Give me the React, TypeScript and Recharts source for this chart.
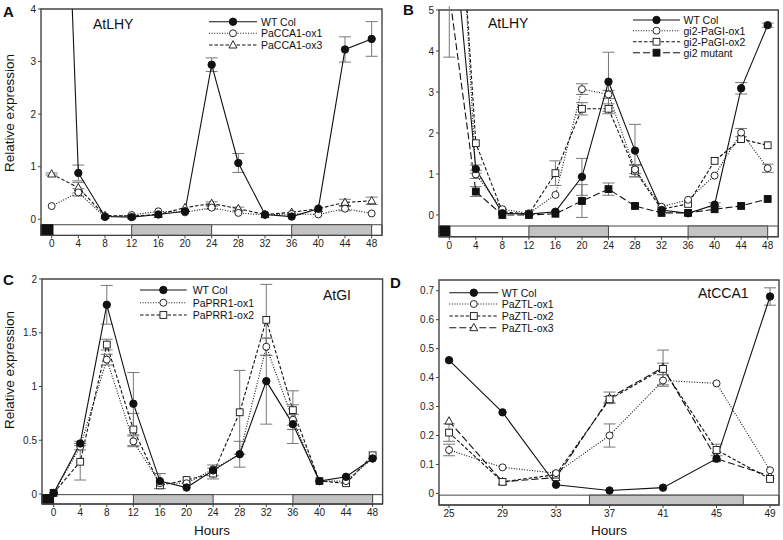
import React from "react";
import { LineChart, Line, XAxis, YAxis, ReferenceArea, ErrorBar } from "recharts";

const FONT = "'Liberation Sans', Arial, sans-serif";

// hours
const hoursABC = [0, 4, 8, 12, 16, 20, 24, 28, 32, 36, 40, 44, 48];
const hoursD = [25, 29, 33, 37, 41, 45, 49];

// A - AtLHY in PaCCA1 lines
const wtA = [14.6, 0.88, 0.05, 0.04, 0.09, 0.15, 2.94, 1.07, 0.09, 0.05, 0.2, 3.23, 3.43];
const wtAErr = [0, 0.15, 0, 0, 0, 0, 0.13, 0.18, 0, 0, 0, 0.24, 0.33];
const ox1A = [0.25, 0.51, 0.04, 0.08, 0.15, 0.13, 0.22, 0.12, 0.08, 0.1, 0.09, 0.2, 0.11];
const ox1AErr = [0, 0.07, 0, 0, 0, 0, 0.03, 0, 0, 0, 0, 0.04, 0];
const ox3A = [0.86, 0.6, 0.07, 0.06, 0.09, 0.22, 0.3, 0.2, 0.09, 0.13, 0.2, 0.32, 0.35];
const ox3AErr = [0.02, 0.1, 0, 0, 0, 0, 0.03, 0.03, 0, 0, 0, 0.06, 0.07];

// B - AtLHY in gi2 lines
const wtB = [8.0, 1.12, 0.04, 0.02, 0.08, 0.93, 3.25, 1.57, 0.12, 0.04, 0.25, 3.09, 4.63];
const wtBErr = [0, 0.1, 0, 0, 0, 0.45, 0.72, 0.64, 0, 0, 0.05, 0.14, 0.05];
const ox1B = [12.5, 0.99, 0.14, 0.04, 0.49, 3.07, 2.94, 1.11, 0.2, 0.37, 0.96, 2.01, 1.14];
const ox1BErr = [0, 0.1, 0, 0, 0, 0.13, 0.1, 0.1, 0, 0, 0, 0.1, 0.1];
const ox2B = [11.7, 1.75, 0.08, 0.02, 1.02, 2.59, 2.59, 1.08, 0.14, 0.27, 1.32, 1.85, 1.7];
const ox2BErr = [0, 0, 0, 0, 0.3, 0.15, 0.12, 0.15, 0, 0, 0, 0, 0];
const gi2B = [5.4, 0.57, 0.0, 0.0, 0.03, 0.34, 0.63, 0.22, 0.05, 0.05, 0.14, 0.22, 0.39];
const gi2BErr = [1.55, 0.12, 0, 0, 0, 0.4, 0.15, 0, 0, 0, 0, 0, 0];

// C - AtGI in PaPRR1 lines
const wtC = [0.01, 0.47, 1.76, 0.84, 0.12, 0.06, 0.22, 0.37, 1.05, 0.65, 0.12, 0.16, 0.33];
const wtCErr = [0, 0.02, 0.18, 0.29, 0.07, 0, 0.05, 0.12, 0.4, 0.18, 0, 0, 0];
const ox1C = [0.01, 0.44, 1.25, 0.49, 0.1, 0.1, 0.23, 0.37, 1.37, 0.69, 0.12, 0.12, 0.33];
const ox1CErr = [0, 0.03, 0.05, 0.05, 0, 0, 0, 0, 0.08, 0.05, 0, 0, 0];
const ox2C = [0.01, 0.3, 1.39, 0.6, 0.08, 0.13, 0.19, 0.76, 1.62, 0.78, 0.12, 0.1, 0.36];
const ox2CErr = [0, 0.17, 0.05, 0.15, 0, 0, 0.05, 0.39, 0.33, 0.18, 0, 0, 0];

// D - AtCCA1 in PaZTL lines
const wtD = [0.46, 0.28, 0.03, 0.01, 0.02, 0.12, 0.68];
const wtDErr = [0, 0, 0, 0, 0, 0, 0.03];
const ox1D = [0.15, 0.09, 0.07, 0.2, 0.39, 0.38, 0.08];
const ox1DErr = [0.02, 0, 0, 0.04, 0.02, 0, 0];
const ox2D = [0.21, 0.04, 0.065, 0.325, 0.43, 0.15, 0.05];
const ox2DErr = [0.03, 0, 0, 0.01, 0.02, 0.02, 0];
const ox3D = [0.25, 0.04, 0.055, 0.33, 0.435, 0.12, 0.06];
const ox3DErr = [0, 0, 0, 0.02, 0.06, 0, 0];

const ticksA = [0, 1, 2, 3, 4];
const ticksB = [0, 1, 2, 3, 4, 5];
const ticksC = [0, 0.5, 1, 1.5, 2];
const ticksD = [0, 0.1, 0.2, 0.3, 0.4, 0.5, 0.6, 0.7];

type Kind = "dot" | "ring" | "square" | "fsquare" | "tri";
type Dash = "solid" | "dotted" | "dashed" | "long";

const DASH: Record<Dash, string | undefined> = {
  solid: undefined,
  dotted: "1 1.6",
  dashed: "3.5 2",
  long: "7 3",
};

function Marker({ kind, cx, cy }: { kind: Kind; cx: number; cy: number }) {
  if (cx == null || cy == null) return null;
  const s = "#111";
  if (kind === "dot") return <circle cx={cx} cy={cy} r={3.7} fill={s} stroke={s} />;
  if (kind === "ring") return <circle cx={cx} cy={cy} r={3.5} fill="#fff" stroke={s} strokeWidth={0.9} />;
  if (kind === "square") return <rect x={cx - 3.4} y={cy - 3.4} width={6.8} height={6.8} fill="#fff" stroke={s} strokeWidth={0.9} />;
  if (kind === "fsquare") return <rect x={cx - 3.4} y={cy - 3.4} width={6.8} height={6.8} fill={s} stroke={s} />;
  return <polygon points={`${cx},${cy - 4.3} ${cx - 4},${cy + 3} ${cx + 4},${cy + 3}`} fill="#fff" stroke={s} strokeWidth={0.9} />;
}

interface Series {
  key: string;
  name: string;
  values: number[];
  errors: number[];
  kind: Kind;
  dash: Dash;
}

const seriesA: Series[] = [
  { key: "ox3", name: "PaCCA1-ox3", values: ox3A, errors: ox3AErr, kind: "tri", dash: "dashed" },
  { key: "ox1", name: "PaCCA1-ox1", values: ox1A, errors: ox1AErr, kind: "ring", dash: "dotted" },
  { key: "wt", name: "WT Col", values: wtA, errors: wtAErr, kind: "dot", dash: "solid" },
];
const seriesB: Series[] = [
  { key: "gi2", name: "gi2 mutant", values: gi2B, errors: gi2BErr, kind: "fsquare", dash: "long" },
  { key: "ox2", name: "gi2-PaGI-ox2", values: ox2B, errors: ox2BErr, kind: "square", dash: "dashed" },
  { key: "ox1", name: "gi2-PaGI-ox1", values: ox1B, errors: ox1BErr, kind: "ring", dash: "dotted" },
  { key: "wt", name: "WT Col", values: wtB, errors: wtBErr, kind: "dot", dash: "solid" },
];
const seriesC: Series[] = [
  { key: "ox2", name: "PaPRR1-ox2", values: ox2C, errors: ox2CErr, kind: "square", dash: "dashed" },
  { key: "ox1", name: "PaPRR1-ox1", values: ox1C, errors: ox1CErr, kind: "ring", dash: "dotted" },
  { key: "wt", name: "WT Col", values: wtC, errors: wtCErr, kind: "dot", dash: "solid" },
];
const seriesD: Series[] = [
  { key: "ox3", name: "PaZTL-ox3", values: ox3D, errors: ox3DErr, kind: "tri", dash: "long" },
  { key: "ox2", name: "PaZTL-ox2", values: ox2D, errors: ox2DErr, kind: "square", dash: "dashed" },
  { key: "ox1", name: "PaZTL-ox1", values: ox1D, errors: ox1DErr, kind: "ring", dash: "dotted" },
  { key: "wt", name: "WT Col", values: wtD, errors: wtDErr, kind: "dot", dash: "solid" },
];

const YW = 40;
const MT = 4;
const MR = 4;
const XH = 22;

interface PanelProps {
  left: number;
  top: number;
  plotW: number;
  plotH: number;
  hours: number[];
  xDomain: [number, number];
  yDomain: [number, number];
  yTicks: number[];
  barY: [number, number];
  grey: [number, number][];
  black?: number;
  series: Series[];
}

function Panel(p: PanelProps) {
  const data = p.hours.map((h, i) => {
    const row: Record<string, number | undefined> = { h };
    p.series.forEach((s) => {
      row[s.key] = s.values[i];
      row[s.key + "E"] = s.errors[i] ? s.errors[i] : undefined;
    });
    return row;
  });
  const [x0, x1] = p.xDomain;
  const [y0, y1] = p.yDomain;
  const tickStyle = { fontSize: 10, fill: "#222", fontFamily: FONT };
  return (
    <div style={{ position: "absolute", left: p.left - YW, top: p.top - MT }}>
      <LineChart
        width={YW + p.plotW + MR}
        height={MT + p.plotH + XH}
        data={data}
        margin={{ top: MT, right: MR, bottom: 0, left: 0 }}
      >
        <XAxis
          dataKey="h"
          type="number"
          domain={p.xDomain}
          ticks={p.hours}
          interval={0}
          allowDataOverflow
          axisLine={false}
          tickSize={3}
          tickLine={{ stroke: "#444" }}
          tick={tickStyle}
          height={XH}
        />
        <YAxis
          type="number"
          domain={p.yDomain}
          ticks={p.yTicks}
          interval={0}
          allowDataOverflow
          axisLine={false}
          tickSize={3}
          tickLine={{ stroke: "#444" }}
          tick={tickStyle}
          width={YW}
        />
        <ReferenceArea x1={x0} x2={x1} y1={p.barY[0]} y2={p.barY[1]} fill="#fff" fillOpacity={1} stroke="#444" strokeWidth={1} />
        {p.grey.map(([a, b], i) => (
          <ReferenceArea key={i} x1={a} x2={b} y1={p.barY[0]} y2={p.barY[1]} fill="#c3c3c3" fillOpacity={1} stroke="#444" strokeWidth={1} />
        ))}
        {p.black !== undefined && (
          <ReferenceArea x1={x0} x2={p.black} y1={p.barY[0]} y2={p.barY[1]} fill="#111" fillOpacity={1} stroke="#111" />
        )}
        <ReferenceArea x1={x0} x2={x1} y1={y0} y2={y1} fill="none" stroke="#444" strokeWidth={1.4} />
        {p.series.map((s) => (
          <Line
            key={s.key}
            dataKey={s.key}
            type="linear"
            stroke="#111"
            strokeWidth={1.1}
            strokeDasharray={DASH[s.dash]}
            isAnimationActive={false}
            dot={(d: any) => <Marker key={d.index} kind={s.kind} cx={d.cx} cy={d.cy} />}
            activeDot={false}
          >
            <ErrorBar dataKey={s.key + "E"} direction="y" width={6} stroke="#777" strokeWidth={1} />
          </Line>
        ))}
      </LineChart>
    </div>
  );
}

interface LegendProps {
  x0: number;
  x1: number;
  tx: number;
  rows: number[];
  items: Series[];
}

function LegendBox({ x0, x1, tx, rows, items }: LegendProps) {
  const mx = (x0 + x1) / 2;
  return (
    <g>
      {items.map((s, i) => (
        <g key={s.key}>
          <line x1={x0} x2={x1} y1={rows[i]} y2={rows[i]} stroke="#111" strokeWidth={1.1} strokeDasharray={DASH[s.dash]} />
          <Marker kind={s.kind} cx={mx} cy={rows[i]} />
          <text x={tx} y={rows[i] + 3.8} fontSize={10.5} fontFamily={FONT} fill="#111">
            {s.name}
          </text>
        </g>
      ))}
    </g>
  );
}

export default function App() {
  const rev = (a: Series[]) => [...a].reverse();
  return (
    <div style={{ position: "absolute", left: 0, top: 0, width: 783, height: 540, background: "#fff", overflow: "hidden" }}>
      <Panel
        left={41}
        top={9.3}
        plotW={341}
        plotH={226.4}
        hours={hoursABC}
        xDomain={[-1.6, 49.55]}
        yDomain={[-0.308, 4]}
        yTicks={ticksA}
        barY={[-0.308, -0.105]}
        grey={[[12, 24], [36, 48]]}
        black={0.2}
        series={seriesA}
      />
      <Panel
        left={439}
        top={10}
        plotW={339.3}
        plotH={226.7}
        hours={hoursABC}
        xDomain={[-1.55, 49.6]}
        yDomain={[-0.53, 5]}
        yTicks={ticksB}
        barY={[-0.53, -0.27]}
        grey={[[12, 24], [36, 48]]}
        black={0.1}
        series={seriesB}
      />
      <Panel
        left={41.7}
        top={279.3}
        plotW={340.6}
        plotH={225}
        hours={hoursABC}
        xDomain={[-1.75, 49.5]}
        yDomain={[-0.093, 2]}
        yTicks={ticksC}
        barY={[-0.093, -0.006]}
        grey={[[12, 24], [36, 48]]}
        black={0}
        series={seriesC}
      />
      <Panel
        left={439}
        top={280}
        plotW={340}
        plotH={225}
        hours={hoursD}
        xDomain={[24.25, 49.67]}
        yDomain={[-0.04, 0.737]}
        yTicks={ticksD}
        barY={[-0.04, -0.006]}
        grey={[[35.5, 47]]}
        series={seriesD}
      />
      <svg width={783} height={540} style={{ position: "absolute", left: 0, top: 0, pointerEvents: "none" }}>
        <g fontFamily={FONT} fill="#111">
          <text x={3} y={17} fontSize={15} fontWeight="bold">A</text>
          <text x={403} y={15} fontSize={15} fontWeight="bold">B</text>
          <text x={3} y={285} fontSize={15} fontWeight="bold">C</text>
          <text x={390} y={288} fontSize={15} fontWeight="bold">D</text>
          <text x={93} y={29} fontSize={14}>AtLHY</text>
          <text x={488} y={28} fontSize={14}>AtLHY</text>
          <text x={323} y={300} fontSize={14}>AtGI</text>
          <text x={698} y={298} fontSize={14}>AtCCA1</text>
          <text x={14} y={113} fontSize={13.5} textAnchor="middle" transform="rotate(-90 14 113)">Relative expression</text>
          <text x={14} y={370} fontSize={13.5} textAnchor="middle" transform="rotate(-90 14 370)">Relative expression</text>
          <text x={212} y={535} fontSize={13.5} textAnchor="middle">Hours</text>
          <text x={609} y={535} fontSize={13.5} textAnchor="middle">Hours</text>
        </g>
        <LegendBox x0={209} x1={257} tx={261} rows={[21.7, 33.3, 45]} items={rev(seriesA)} />
        <LegendBox x0={633} x1={680} tx={683.5} rows={[20, 30.7, 41.7, 52.7]} items={rev(seriesB)} />
        <LegendBox x0={140} x1={186.7} tx={192.7} rows={[290, 302.7, 315]} items={rev(seriesC)} />
        <LegendBox x0={449.3} x1={498.3} tx={501.7} rows={[292.7, 304, 316, 327.7]} items={rev(seriesD)} />
      </svg>
    </div>
  );
}
